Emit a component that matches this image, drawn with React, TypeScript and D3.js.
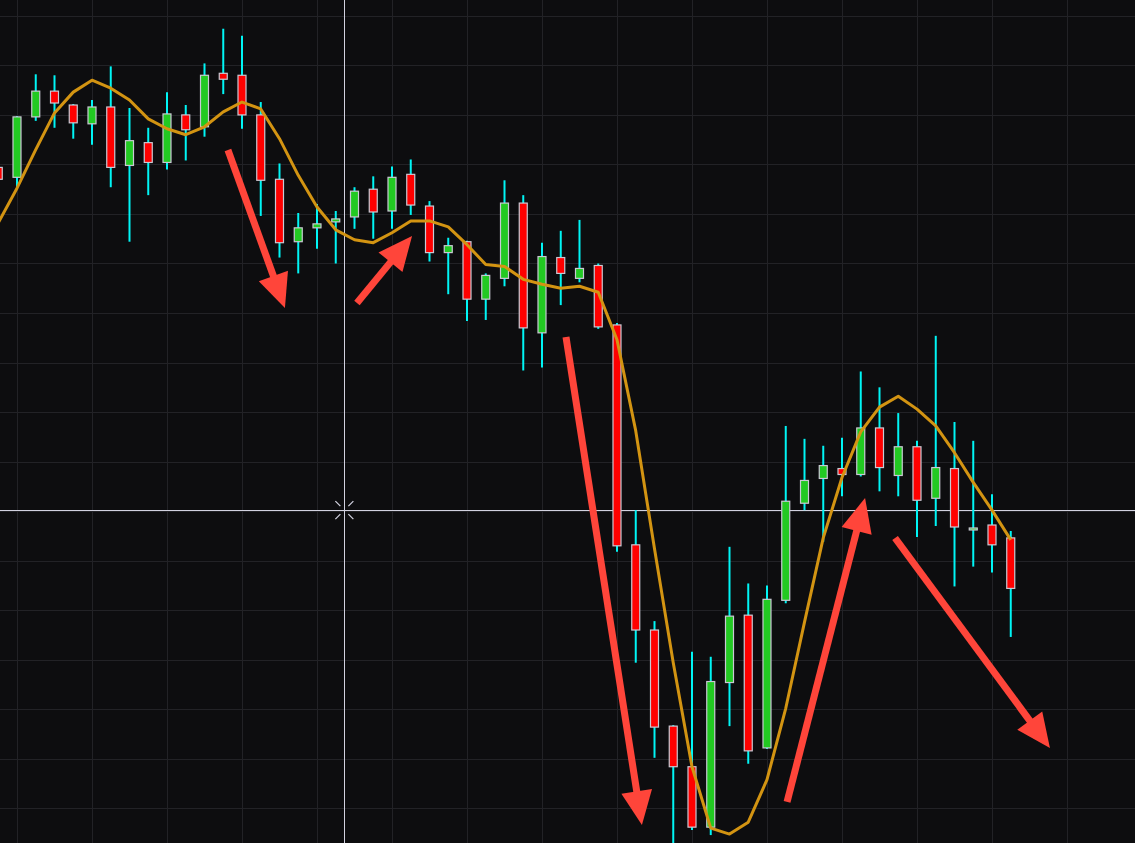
import React from "react";
import * as d3 from "d3";

const W = 1135;
const H = 843;

// bar index (first bar is partially cut off at the left edge)
const bars = d3.range(-1, 54);

const opens = [164.7, 163.7, 169.8, 172.4, 171.0, 169.1, 170.8, 164.9, 167.2, 165.2, 170.0, 168.8, 174.2, 174.0, 170.0, 163.5, 157.2, 158.6, 159.2, 159.7, 162.5, 160.3, 164.0, 160.8, 156.1, 157.2, 151.4, 153.5, 161.1, 148.0, 155.6, 153.5, 154.8, 148.8, 126.6, 118.0, 108.3, 104.2, 98.1, 112.7, 119.5, 106.1, 121.0, 130.8, 133.3, 134.3, 133.7, 138.4, 133.6, 136.5, 131.3, 134.3, 128.1, 128.6, 127.3];
const highs = [165.4, 169.9, 174.1, 174.0, 171.1, 171.5, 174.9, 170.7, 168.7, 172.3, 171.0, 175.2, 178.7, 178.0, 171.3, 165.1, 160.1, 161.0, 160.3, 162.7, 163.8, 164.8, 165.5, 161.3, 157.6, 157.3, 154.0, 163.4, 161.9, 157.1, 158.3, 159.4, 155.0, 149.0, 130.1, 118.9, 108.4, 115.8, 115.3, 126.4, 122.7, 122.5, 138.6, 137.3, 136.6, 137.4, 144.1, 142.5, 139.9, 137.1, 147.7, 139.0, 137.1, 131.7, 128.0];
const lows = [162.9, 162.6, 169.4, 168.7, 167.6, 167.0, 162.7, 157.2, 161.9, 164.5, 165.4, 167.8, 172.1, 168.6, 159.8, 155.6, 154.0, 156.5, 155.0, 158.5, 157.5, 158.5, 159.9, 155.2, 151.9, 149.2, 149.3, 152.7, 144.2, 144.5, 150.8, 153.1, 148.4, 125.9, 114.7, 105.1, 95.5, 97.8, 97.3, 108.3, 104.5, 106.0, 120.7, 130.1, 126.9, 131.5, 133.5, 132.0, 131.5, 127.4, 128.5, 122.4, 124.4, 123.8, 117.3];
const closes = [163.5, 169.8, 172.4, 171.2, 169.2, 170.8, 164.7, 167.4, 165.2, 170.1, 168.5, 174.0, 173.6, 170.0, 163.4, 157.1, 158.6, 159.0, 159.5, 162.3, 160.2, 163.7, 160.9, 156.1, 156.8, 151.4, 153.8, 161.1, 148.5, 155.7, 154.0, 154.5, 148.6, 126.5, 118.0, 108.2, 104.2, 98.1, 112.8, 119.4, 105.8, 121.1, 131.0, 133.1, 134.6, 133.7, 138.4, 134.4, 136.5, 131.1, 134.4, 128.4, 128.3, 126.6, 122.2];
const movingAvg = [159.1, 162.6, 166.5, 170.2, 172.3, 173.5, 172.7, 171.5, 169.6, 168.6, 168.0, 168.8, 170.3, 171.3, 170.6, 167.6, 163.9, 160.7, 158.4, 157.4, 157.1, 158.1, 159.3, 159.3, 158.7, 156.9, 154.9, 154.7, 153.4, 152.9, 152.5, 152.7, 152.1, 147.3, 138.1, 126.2, 114.7, 104.2, 98.0, 97.4, 98.6, 102.9, 110.1, 118.8, 127.3, 133.4, 138.0, 140.5, 141.6, 140.3, 138.6, 135.9, 132.9, 130.1, 127.1];

// price grid levels and time grid (every 4 bars)
const priceGrid = d3.range(100, 181, 5);
const timeGrid = d3.range(0, 57, 4);

// annotation arrows, in (bar index, price)
const arrowFromIdx = [11.25, 18.13, 29.28, 41.07, 46.83];
const arrowFromPrice = [166.46, 151.01, 147.58, 100.64, 127.29];
const arrowToIdx = [14.29, 21.07, 33.33, 45.23, 55.09];
const arrowToPrice = [150.51, 157.78, 98.32, 131.33, 106.09];

// crosshair cursor position
const cursorIdx = 17.46;
const cursorPrice = 130.1;

export default function App() {
  const x = d3.scaleLinear().domain([0, 53]).range([17, 17 + 53 * 18.75]);
  const y = d3.scaleLinear().domain([96.5, 181.6]).range([H, 0]);

  const maLine = d3
    .line<number>()
    .x((_, i) => x(bars[i]))
    .y((d) => y(d))
    .curve(d3.curveLinear)(movingAvg);

  const bodyW = 8;
  const headLen = 34;
  const headW = 31;

  const arrows = arrowFromIdx.map((_, i) => {
    const x1 = x(arrowFromIdx[i]);
    const y1 = y(arrowFromPrice[i]);
    const x2 = x(arrowToIdx[i]);
    const y2 = y(arrowToPrice[i]);
    const dx = x2 - x1;
    const dy = y2 - y1;
    const len = Math.hypot(dx, dy);
    const ux = dx / len;
    const uy = dy / len;
    const bx = x2 - ux * headLen;
    const by = y2 - uy * headLen;
    const px = -uy;
    const py = ux;
    const head = `M${x2},${y2}L${bx + px * headW / 2},${by + py * headW / 2}L${bx - px * headW / 2},${by - py * headW / 2}Z`;
    return { x1, y1, bx: x2 - ux * (headLen - 4), by: y2 - uy * (headLen - 4), head };
  });

  const cx = x(cursorIdx);
  const cy = y(cursorPrice);

  return (
    <svg
      width={W}
      height={H}
      style={{ position: "fixed", left: 0, top: 0, display: "block" }}
    >
      <rect x={0} y={0} width={W} height={H} fill="#0d0d0f" />
      <g stroke="#222226" strokeWidth={1}>
        {priceGrid.map((p) => (
          <line key={"h" + p} x1={0} x2={W} y1={Math.round(y(p)) + 0.5} y2={Math.round(y(p)) + 0.5} />
        ))}
        {timeGrid.map((t) => (
          <line key={"v" + t} y1={0} y2={H} x1={Math.round(x(t)) + 0.5} x2={Math.round(x(t)) + 0.5} />
        ))}
      </g>

      {/* crosshair */}
      <g stroke="#d2d2e0" strokeWidth={1}>
        <line x1={Math.round(cx) + 0.5} x2={Math.round(cx) + 0.5} y1={0} y2={H} />
        <line x1={0} x2={W} y1={Math.round(cy) + 0.5} y2={Math.round(cy) + 0.5} />
      </g>
      <g stroke="#d2d2e0" strokeWidth={1.3}>
        <line x1={cx - 9} y1={cy - 9} x2={cx - 4} y2={cy - 4} />
        <line x1={cx + 9} y1={cy - 9} x2={cx + 4} y2={cy - 4} />
        <line x1={cx - 9} y1={cy + 9} x2={cx - 4} y2={cy + 4} />
        <line x1={cx + 9} y1={cy + 9} x2={cx + 4} y2={cy + 4} />
      </g>

      {/* candles */}
      {bars.map((b, i) => {
        const o = opens[i];
        const c = closes[i];
        const up = c >= o;
        const cxp = x(b);
        const top = y(Math.max(o, c));
        const bot = y(Math.min(o, c));
        return (
          <g key={b}>
            <line x1={cxp} x2={cxp} y1={y(highs[i])} y2={y(lows[i])} stroke="#00f5f5" strokeWidth={2} />
            <rect
              x={cxp - bodyW / 2}
              y={top}
              width={bodyW}
              height={Math.max(bot - top, 1.5)}
              fill={up ? "#22c922" : "#ff0000"}
              stroke="#c9c9d4"
              strokeWidth={1.2}
            />
          </g>
        );
      })}

      {/* moving average */}
      <path d={maLine || ""} fill="none" stroke="#d39412" strokeWidth={3} strokeLinejoin="round" />

      {/* annotation arrows */}
      {arrows.map((a, i) => (
        <g key={"a" + i} fill="#ff453a" stroke="#ff453a">
          <line x1={a.x1} y1={a.y1} x2={a.bx} y2={a.by} strokeWidth={7} />
          <path d={a.head} stroke="none" />
        </g>
      ))}
    </svg>
  );
}
